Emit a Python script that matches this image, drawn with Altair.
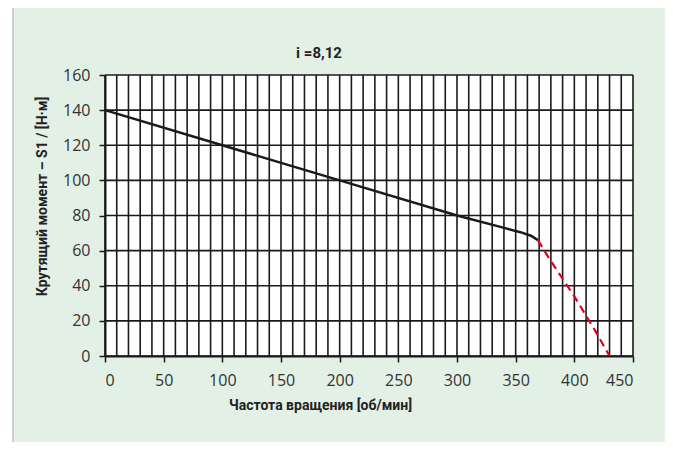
import altair as alt
import pandas as pd

# ---- data ----
black_n = [0, 100, 200, 300, 337, 354, 363, 369]
black_m = [140, 120, 100, 80, 73.5, 70.5, 68.5, 66]
red_n = [369, 379, 389, 400, 410, 419, 430]
red_m = [66, 55, 45, 34, 23, 13, 0]
x_grid = list(range(0, 451, 10))
y_grid = list(range(0, 161, 20))
x_ticks = list(range(0, 451, 50))
y_ticks = list(range(0, 161, 20))

title_text = "i =8,12"
x_title = "Частота вращения [об/мин]"
y_title = "Крутящий момент – S1 / [Н·м]"

FONT = "Open Sans"
TFONT = "Roboto"
W, H = 528, 281

df_black = pd.DataFrame({"n": black_n, "m": black_m})
df_red = pd.DataFrame({"n": red_n, "m": red_m})
df_xg = pd.DataFrame({"n": x_grid})
df_yg = pd.DataFrame({"m": y_grid})
one = pd.DataFrame({"a": [0]})

xs = alt.Scale(domain=[0, 450], nice=False, zero=False)
ys = alt.Scale(domain=[0, 160], nice=False, zero=False)

x_axis = alt.Axis(
    values=x_ticks, grid=False, title=x_title,
    domainColor="#1a1a1a", domainWidth=2, tickColor="#1a1a1a", tickWidth=1.5, tickSize=6,
    labelFont=FONT, labelFontSize=16, labelColor="#333333", labelPadding=10,
    titleFont=TFONT, titleFontSize=14, titleFontWeight="bold", titleColor="#222222",
    titleX=215, titleY=49, titleBaseline="middle", zindex=1,
)
y_axis = alt.Axis(
    values=y_ticks, grid=False, title=y_title,
    domainColor="#1a1a1a", domainWidth=2, tickColor="#1a1a1a", tickWidth=1.5, tickSize=6,
    labelFont=FONT, labelFontSize=16, labelColor="#333333", labelPadding=9,
    titleFont=TFONT, titleFontSize=14, titleFontWeight="bold", titleColor="#222222",
    titleX=-63, titleY=121, titleBaseline="middle", zindex=1,
)

X = alt.X("n:Q", scale=xs, axis=x_axis)
Y = alt.Y("m:Q", scale=ys, axis=y_axis)

bg = alt.Chart(one).mark_rect(fill="#e2f0e6", stroke="#c4c4c4", strokeWidth=1.5).encode(
    x=alt.value(-92), x2=alt.value(580), y=alt.value(-68), y2=alt.value(390)
)
plotbg = alt.Chart(one).mark_rect(fill="white").encode(
    x=alt.value(0), x2=alt.value(W), y=alt.value(0), y2=alt.value(H)
)
title_mark = alt.Chart(one).mark_text(
    text=title_text, font=TFONT, fontSize=15, fontWeight="bold", color="#222222",
    align="center", baseline="middle"
).encode(x=alt.value(214), y=alt.value(-22))

vgrid = alt.Chart(df_xg).mark_rule(color="#1a1a1a", strokeWidth=1.6).encode(x=X)
hgrid = alt.Chart(df_yg).mark_rule(color="#1a1a1a", strokeWidth=1.6).encode(y=Y)

line_black = alt.Chart(df_black).mark_line(color="#1a1a1a", strokeWidth=2.5).encode(x=X, y=Y)
line_red = alt.Chart(df_red).mark_line(color="#e2001a", strokeWidth=2.2, strokeDash=[8, 5]).encode(x=X, y=Y)

chart = alt.layer(bg, plotbg, title_mark, vgrid, hgrid, line_black, line_red).properties(
    width=W, height=H,
    autosize=alt.AutoSizeParams(type="none"),
    padding={"left": 97, "top": 67, "right": 32, "bottom": 86},
).configure_view(stroke=None).configure(background="white")

chart.save("out.html", embed_options={"renderer": "svg", "actions": False})
